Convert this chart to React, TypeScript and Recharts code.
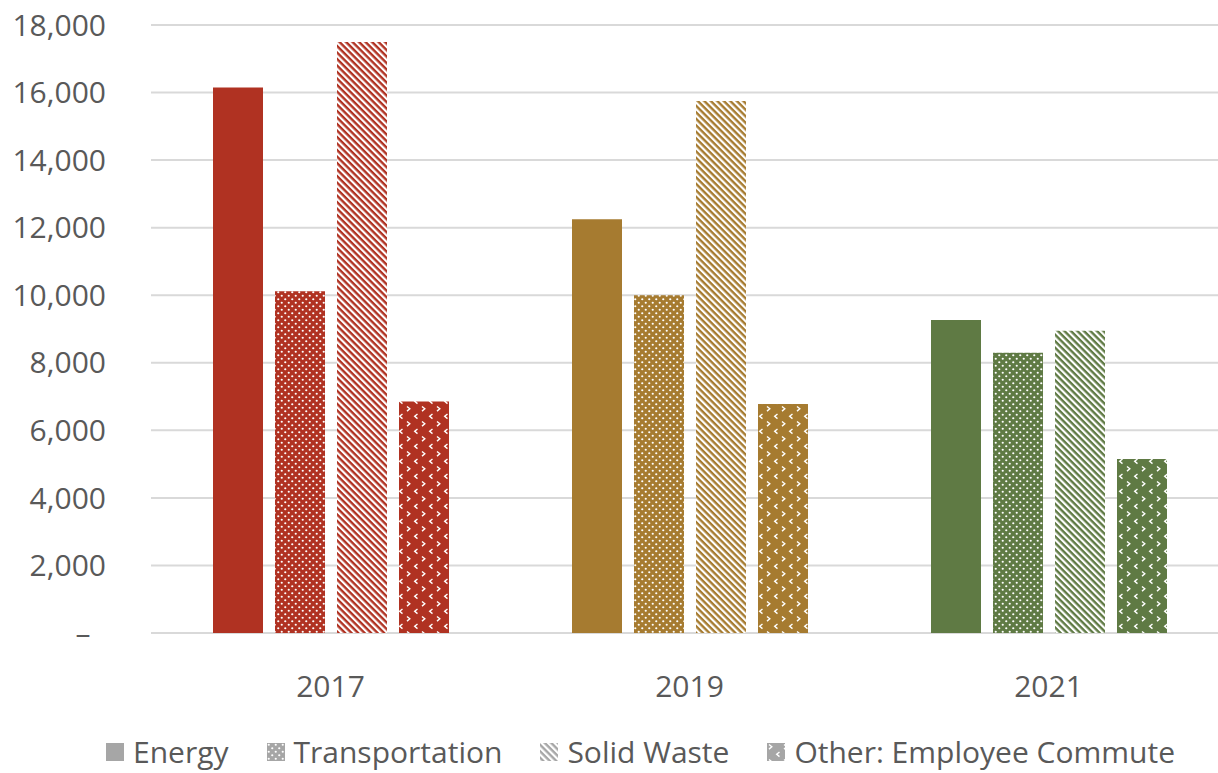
import { BarChart, Bar, XAxis, YAxis, CartesianGrid, Legend, Cell } from 'recharts'

const years = ['2017', '2019', '2021']
const energy = [16150, 12250, 9270]
const transportation = [10120, 10000, 8300]
const solidWaste = [17500, 15750, 8950]
const otherCommute = [6850, 6780, 5150]
const yTicks = [0, 2000, 4000, 6000, 8000, 10000, 12000, 14000, 16000, 18000]

const yearColors = ['#B03222', '#A67B30', '#5F7A44']
const legendGray = '#A6A6A6'
const textGray = '#595959'
const font = '"Open Sans", "Noto Sans", sans-serif'

const chartData = years.map((year, i) => ({
  year,
  Energy: energy[i],
  Transportation: transportation[i],
  'Solid Waste': solidWaste[i],
  'Other: Employee Commute': otherCommute[i]
}))

const Patterns = ({ id, color }: { id: string; color: string }) => (
  <>
    <pattern id={`dots-${id}`} width="7" height="7" patternUnits="userSpaceOnUse">
      <rect width="7" height="7" fill={color} />
      <circle cx="1.75" cy="1.75" r="1.1" fill="#fff" />
      <circle cx="5.25" cy="5.25" r="1.1" fill="#fff" />
    </pattern>
    <pattern id={`stripes-${id}`} width="4.6" height="4.6" patternUnits="userSpaceOnUse" patternTransform="rotate(-45)">
      <rect width="4.6" height="4.6" fill={color} />
      <rect width="2.2" height="4.6" fill="#fff" />
    </pattern>
    <pattern id={`chev-${id}`} width="15" height="15" patternUnits="userSpaceOnUse">
      <rect width="15" height="15" fill={color} />
      <path d="M2 1.5 L4.8 3.8 L2 6.1" stroke="#fff" strokeWidth="1.4" fill="none" />
      <path d="M12.5 9 L9.7 11.3 L12.5 13.6" stroke="#fff" strokeWidth="1.4" fill="none" />
    </pattern>
  </>
)

const series = [
  { key: 'Energy', fill: (i: number) => yearColors[i], legend: legendGray },
  { key: 'Transportation', fill: (i: number) => `url(#dots-${i})`, legend: 'url(#dots-g)' },
  { key: 'Solid Waste', fill: (i: number) => `url(#stripes-${i})`, legend: 'url(#stripes-g)' },
  { key: 'Other: Employee Commute', fill: (i: number) => `url(#chev-${i})`, legend: 'url(#chev-g)' }
]

const LegendContent = () => (
  <div style={{ display: 'flex', justifyContent: 'center', alignItems: 'center', fontFamily: font, fontSize: 30, color: textGray, paddingTop: 18, marginLeft: 53 }}>
    {series.map(s => (
      <div key={s.key} style={{ display: 'flex', alignItems: 'center', margin: '0 19px' }}>
        <svg width="18" height="18" style={{ marginRight: 9 }}>
          <rect width="18" height="18" fill={s.legend} />
        </svg>
        <span>{s.key}</span>
      </div>
    ))}
  </div>
)

export default function App() {
  return (
    <div style={{ position: 'absolute', left: 0, top: 0, width: 1218, height: 773, background: '#fff', overflow: 'hidden' }}>
      <svg width="0" height="0" style={{ position: 'absolute' }}>
        <defs>
          {yearColors.map((c, i) => <Patterns key={i} id={String(i)} color={c} />)}
          <Patterns id="g" color={legendGray} />
        </defs>
      </svg>
      <BarChart width={1228} height={773} data={chartData} margin={{ top: 25, right: 0, bottom: 0, left: 0 }} barSize={50} barGap={12}>
        <CartesianGrid vertical={false} stroke="#D9D9D9" strokeWidth={2} />
        <XAxis
          dataKey="year"
          axisLine={false}
          tickLine={false}
          tickSize={0}
          tickMargin={43}
          height={80}
          tick={{ fill: textGray, fontSize: 30, fontFamily: font }}
        />
        <YAxis
          domain={[0, 18000]}
          ticks={yTicks}
          width={151}
          axisLine={false}
          tickLine={false}
          tickSize={0}
          tickMargin={45}
          tick={{ fill: textGray, fontSize: 30, fontFamily: font }}
          tickFormatter={(v: number) => (v === 0 ? '–\u00A0\u00A0' : v.toLocaleString('en-US'))}
        />
        <Legend verticalAlign="bottom" height={60} content={<LegendContent />} />
        {series.map(s => (
          <Bar key={s.key} dataKey={s.key} isAnimationActive={false}>
            {chartData.map((_, i) => <Cell key={i} fill={s.fill(i)} />)}
          </Bar>
        ))}
      </BarChart>
    </div>
  )
}
